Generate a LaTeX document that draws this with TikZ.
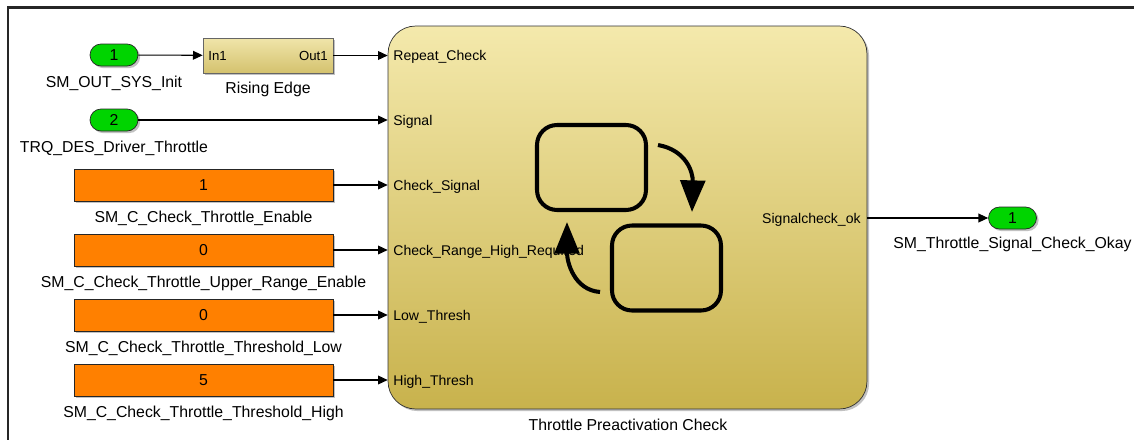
\documentclass[tikz,border=0pt]{standalone}
\usepackage{fontspec}
\setmainfont{Liberation Sans}
\usetikzlibrary{arrows.meta,shadows}
\definecolor{portgreen}{RGB}{0,212,0}
\definecolor{constorange}{RGB}{255,128,0}
\definecolor{edgetop}{RGB}{240,229,170}
\definecolor{edgebot}{RGB}{212,194,110}
\definecolor{charttop}{RGB}{244,233,172}
\definecolor{chartbot}{RGB}{200,178,76}
\begin{document}
\begin{tikzpicture}[x=0.02cm,y=-0.02cm,
    shad/.style={drop shadow={shadow xshift=1.2pt,shadow yshift=-1.2pt,opacity=0.35,fill=black!70}},
    inport/.style={shad,draw=black!85,fill=portgreen,rounded corners=0.22cm,minimum width=0.96cm,minimum height=0.44cm,inner sep=0pt,font=\fontsize{9}{9}\selectfont},
    constbox/.style={shad,draw=black!85,fill=constorange,minimum width=5.18cm,minimum height=0.64cm,inner sep=0pt,font=\fontsize{9}{9}\selectfont},
    subsys/.style={shad,draw=black!60,top color=edgetop,bottom color=edgebot,minimum width=2.6cm,minimum height=0.7cm,inner sep=0pt},
    chartbox/.style={shad,draw=black!80,top color=charttop,bottom color=chartbot,rounded corners=0.55cm,minimum width=9.58cm,minimum height=7.66cm,inner sep=0pt},
    lbl/.style={anchor=base,font=\fontsize{9}{9}\selectfont,inner sep=0pt},
    portlbl/.style={anchor=base west,font=\fontsize{8}{8}\selectfont,inner sep=0pt},
    smalllbl/.style={font=\fontsize{7.5}{7.5}\selectfont,inner sep=0pt},
    sig/.style={-{Triangle[length=5.5pt,width=5pt]},line width=0.6pt},
    statebox/.style={draw,line width=2.3pt,rounded corners=0.4cm,minimum width=2.18cm,minimum height=1.7cm,inner sep=0pt},
    trans/.style={-{Triangle[length=18pt,width=14pt]},line width=2.3pt}]

  \useasboundingbox (0,0) rectangle (1134,440);
  \draw[line width=1.2pt,black!85] (8.3,440) -- (8.3,7.5) -- (1134,7.5);

  % inputs
  \node[inport] (in1) at (114,55) {1};
  \node[lbl] (in1lbl) at (114,87) {SM\_OUT\_SYS\_Init};
  \node[inport] (in2) at (114,120) {2};
  \node[lbl] (in2lbl) at (114,152) {TRQ\_DES\_Driver\_Throttle};

  \node[subsys] (edge) at (268,55.5) {};
  \node[smalllbl,anchor=base west] (edgein) at (208,60.5) {In1};
  \node[smalllbl,anchor=base east] (edgeout) at (328,60.5) {Out1};
  \node[lbl] (edgelbl) at (268,93) {Rising Edge};

  % chart
  \node[chartbox] (chart) at (627.5,217.5) {};
  \node[lbl] (chartlbl) at (628,430) {Throttle Preactivation Check};

  \draw[sig] (in1) -- (edge);
  \draw[sig] (edge) -- (edge -| chart.west);
  \draw[sig] (in2) -- (in2 -| chart.west);
  \node[portlbl] (prep) at (393,60.5) {Repeat\_Check};
  \node[portlbl] (psig) at (393,125.5) {Signal};

  \foreach \val/\name/\port [count=\i] in {1/Enable/Check\_Signal, 0/Upper\_Range\_Enable/Check\_Range\_High\_Required, 0/Threshold\_Low/Low\_Thresh, 5/Threshold\_High/High\_Thresh}
  {
    \node[constbox] (c\i) at (203.5,120+65*\i) {\val};
    \node[lbl] (c\i lbl) at (203.5,157+65*\i) {SM\_C\_Check\_Throttle\_\name};
    \node[portlbl] (p\i) at (393,125.5+65*\i) {\port};
    \draw[sig] (c\i) -- (c\i -| chart.west);
  }

  % output
  \node[anchor=base east,font=\fontsize{8}{8}\selectfont,inner sep=0pt] (pok) at (861,223.5) {Signalcheck\_ok};
  \node[inport] (out1) at (1012.5,218) {1};
  \node[lbl] (out1lbl) at (1012.5,248) {SM\_Throttle\_Signal\_Check\_Okay};
  \draw[sig] (chart.east |- out1) -- (out1);

  % state icon
  \node[statebox] (s1) at (591.5,167.5) {};
  \node[statebox] (s2) at (666.5,268) {};
  \coordinate (t1) at (658,145);
  \coordinate (t1end) at (692,212);
  \coordinate (t2) at (600,292);
  \coordinate (t2end) at (567,222);
  \draw[trans] (t1) .. controls (686,150) and (693,172) .. (t1end);
  \draw[trans] (t2) .. controls (574,290) and (567,262) .. (t2end);

\end{tikzpicture}
\end{document}
